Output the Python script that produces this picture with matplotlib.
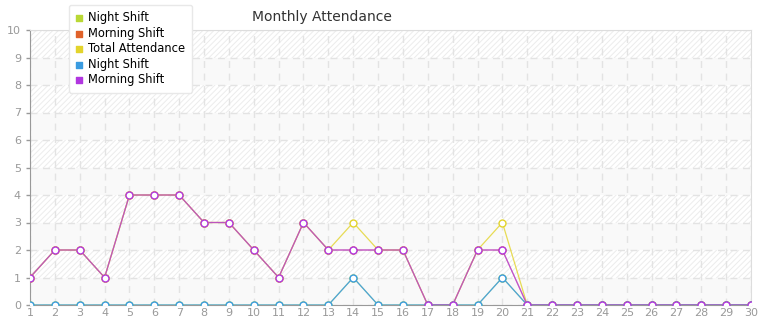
import matplotlib
matplotlib.use("Agg")
import matplotlib.pyplot as plt

days = list(range(1, 31))
night_shift_a = [0]*13 + [1, 0, 0, 0, 0, 0, 1] + [0]*10
morning_shift_a = [1, 2, 2, 1, 4, 4, 4, 3, 3, 2, 1, 3, 2, 2, 2, 2, 0, 0, 2, 2] + [0]*10
total_attendance = [1, 2, 2, 1, 4, 4, 4, 3, 3, 2, 1, 3, 2, 3, 2, 2, 0, 0, 2, 3] + [0]*10
night_shift_b = [0]*13 + [1, 0, 0, 0, 0, 0, 1] + [0]*10
morning_shift_b = [1, 2, 2, 1, 4, 4, 4, 3, 3, 2, 1, 3, 2, 2, 2, 2, 0, 0, 2, 2] + [0]*10

series = [
    ("Night Shift", night_shift_a, "#b9d835"),
    ("Morning Shift", morning_shift_a, "#e0622a"),
    ("Total Attendance", total_attendance, "#e3d42c"),
    ("Night Shift", night_shift_b, "#3a9be0"),
    ("Morning Shift", morning_shift_b, "#b136e0"),
]
y_ticks = list(range(0, 11))

plt.rcParams['hatch.linewidth'] = 0.7
plt.rcParams['hatch.color'] = '#ececec'

fig = plt.figure(figsize=(7.65, 3.2), dpi=100)
ax = fig.add_axes([30/765, 1-305/320, (751-30)/765, (305-30)/320])
ax.set_facecolor('white')

for k in range(10):
    if k % 2 == 1:
        ax.axhspan(k, k+1, facecolor='white', edgecolor='#ececec', hatch='//////', lw=0, zorder=0)
    else:
        ax.axhspan(k, k+1, facecolor='#f9f9f9', lw=0, zorder=0)

line_alpha = [0.5, 0.45, 0.8, 0.9, 0.8]
handles = []
for (name, vals, col), a in zip(series, line_alpha):
    ax.plot(days, vals, color=col, lw=0.9, alpha=a, zorder=3)
    ax.plot(days, vals, ls='none', marker='o', ms=5, mfc='white', mec=col, mew=1.0, zorder=4)
    h = ax.scatter([], [], marker='s', s=16, color=col)
    handles.append((h, name))

ax.set_xlim(1, 30)
ax.set_ylim(0, 10)
ax.set_xticks(days)
ax.set_xticklabels([str(d) for d in days])
ax.set_yticks(y_ticks)
ax.grid(True, color='#e3e3e3', ls=(0, (5, 4)), lw=1, zorder=1)
ax.set_axisbelow(True)
for s in ['top', 'right']:
    ax.spines[s].set_color('#dddddd')
for s in ['left', 'bottom']:
    ax.spines[s].set_color('#999999')
ax.tick_params(axis='both', colors='#999999', labelcolor='#999999', labelsize=8, length=3, width=1)
ax.tick_params(axis='x', length=0, pad=2.5)

fig.text(322/765, 1-17/320, "Monthly Attendance", ha='center', va='center', fontsize=10, color='#333333')

leg = fig.legend([h for h, _ in handles], [n for _, n in handles], loc='upper left',
                 bbox_to_anchor=(63/765, 1+1/320), frameon=True, fontsize=8.3,
                 handlelength=0.7, handletextpad=0.45, labelspacing=0.22,
                 borderpad=0.55, fancybox=True, markerscale=1.0)
fr = leg.get_frame()
fr.set_facecolor('white')
fr.set_edgecolor('#e8e8e8')
fr.set_alpha(1)
leg.set_zorder(10)

fig.savefig("out.png", dpi=100)
